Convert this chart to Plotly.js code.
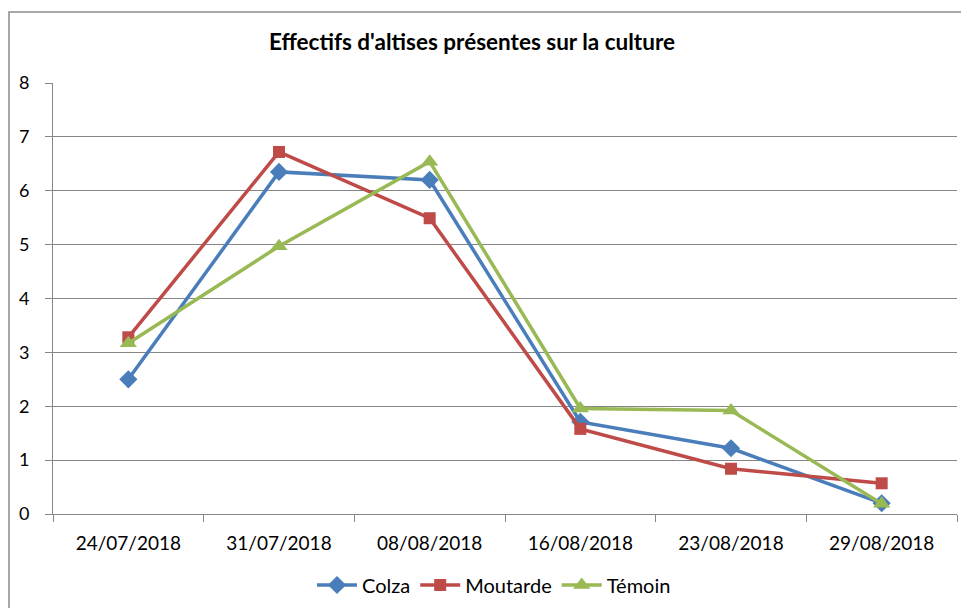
<!DOCTYPE html>
<html>
<head>
<meta charset="utf-8">
<script src="https://cdn.plot.ly/plotly-3.0.1.min.js"></script>
<style>
html,body{margin:0;padding:0;background:#fff;}
#chart{width:961px;height:608px;}
</style>
</head>
<body>
<div id="chart"></div>
<script>
const categories = ["24/07/2018","31/07/2018","08/08/2018","16/08/2018","23/08/2018","29/08/2018"];
const colza = [2.5, 6.35, 6.2, 1.71, 1.22, 0.2];
const moutarde = [3.28, 6.72, 5.49, 1.58, 0.84, 0.57];
const temoin = [3.17, 4.97, 6.54, 1.96, 1.92, 0.19];
const yTicks = [0,1,2,3,4,5,6,7,8];

const FONT = "Lato, 'Open Sans', sans-serif";
const grid = "#868686";

const traces = [
  {name:"Colza", x:categories, y:colza, type:"scatter", mode:"lines+markers",
   line:{color:"#4A7EBB", width:3.5}, marker:{symbol:"diamond", size:14, color:"#4A7EBB"}},
  {name:"Moutarde", x:categories, y:moutarde, type:"scatter", mode:"lines+markers",
   line:{color:"#BE4B48", width:3.5}, marker:{symbol:"square", size:12, color:"#BE4B48"}},
  {name:"Témoin", x:categories, y:temoin, type:"scatter", mode:"lines+markers",
   line:{color:"#98B954", width:3.5}, marker:{symbol:"triangle-up", size:15, color:"#98B954"}}
];

const layout = {
  width:961, height:608,
  margin:{l:53, r:4, t:83, b:94},
  paper_bgcolor:"#fff", plot_bgcolor:"#fff",
  font:{family:FONT, color:"#000"},
  title:{text:"<b>Effectifs d'altises présentes sur la culture</b>", font:{family:FONT, size:22.5, color:"#000"},
         x:(472-53)/904, xanchor:"center", y:1-42/608, yanchor:"middle", xref:"paper"},
  showlegend:true,
  legend:{orientation:"h", x:(494-53)/904, xanchor:"center", y:(514-585)/431, yanchor:"middle",
          font:{family:FONT, size:20, color:"#000"}, itemwidth:40, tracegroupgap:0},
  xaxis:{type:"category", categoryarray:categories, showgrid:false, showline:true, linecolor:grid, linewidth:1,
         ticks:"outside", tickson:"boundaries", ticklen:7, tickcolor:grid, tickwidth:1,
         tickfont:{family:FONT, size:19, color:"#000"}, ticklabelstandoff:12, fixedrange:true,
         range:[-0.5,5.5]},
  yaxis:{range:[0,8], tickvals:yTicks, showgrid:true, gridcolor:grid, gridwidth:1, zeroline:false,
         showline:true, linecolor:grid, linewidth:1, ticks:"outside", ticklen:7, tickcolor:grid,
         tickfont:{family:FONT, size:18, color:"#000"}, ticklabelstandoff:12},
  shapes:[{type:"rect", xref:"paper", yref:"paper",
           x0:(9-53)/904, x1:(970-53)/904, y0:(514-620)/431, y1:(514-12)/431,
           line:{color:"#8c8c8c", width:1.5}, fillcolor:"rgba(0,0,0,0)", layer:"below"}]
};

Plotly.newPlot("chart", traces, layout, {displayModeBar:false, staticPlot:true});
</script>
</body>
</html>
